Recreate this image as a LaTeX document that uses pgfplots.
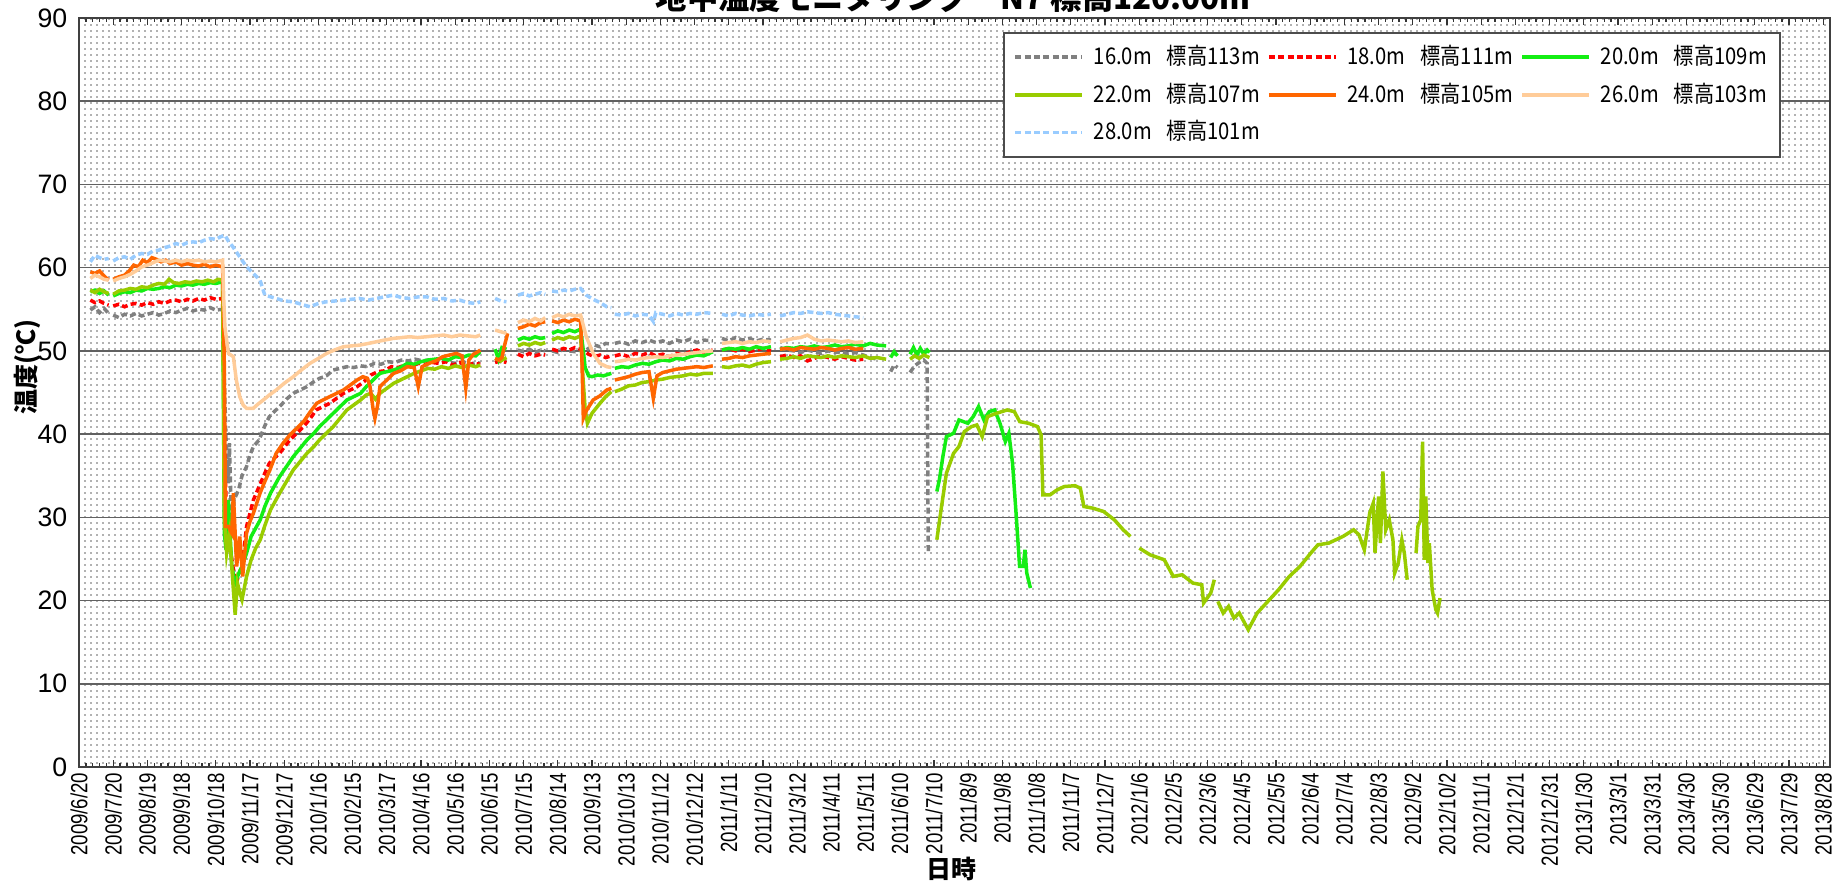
\documentclass[border=0pt]{standalone}
\usepackage{fontspec}
\setmainfont{Liberation Sans}
\newfontfamily\narrowfont[FakeStretch=0.8]{Liberation Sans}
\newfontfamily\jp{Noto Sans CJK JP}
\newfontfamily\jpleg[FakeStretch=0.88]{Noto Sans CJK JP}
\usepackage{pgfplots}
\pgfplotsset{compat=1.18}
\usetikzlibrary{patterns}
\pgfdeclarepatternformonly{bgdots}{\pgfqpoint{-0.1pt}{-0.1pt}}{\pgfqpoint{1.9pt}{1.9pt}}{\pgfqpoint{1.8pt}{1.8pt}}{\pgfpathrectangle{\pgfqpoint{0pt}{0pt}}{\pgfqpoint{0.55pt}{0.55pt}}\pgfusepath{fill}}
\definecolor{cgray}{RGB}{128,128,128}
\definecolor{cred}{RGB}{255,0,0}
\definecolor{cgreen}{RGB}{20,238,20}
\definecolor{cyg}{RGB}{153,204,0}
\definecolor{corange}{RGB}{255,102,0}
\definecolor{cpeach}{RGB}{255,204,153}
\definecolor{cblue}{RGB}{153,204,255}
\begin{document}
\begin{tikzpicture}
\useasboundingbox (0,0) rectangle (553.8pt,267pt);
\begin{axis}[
  at={(23.7pt,36.9pt)}, anchor=south west,
  scale only axis, width=525.3pt, height=224.7pt,
  xmin=0, xmax=1536, ymin=0, ymax=90,
  ytick={0,10,...,90},
  xtick={0,30,...,1530},
  xticklabels={2009/6/20,2009/7/20,2009/8/19,2009/9/18,2009/10/18,2009/11/17,2009/12/17,2010/1/16,2010/2/15,2010/3/17,2010/4/16,2010/5/16,2010/6/15,2010/7/15,2010/8/14,2010/9/13,2010/10/13,2010/11/12,2010/12/12,2011/1/11,2011/2/10,2011/3/12,2011/4/11,2011/5/11,2011/6/10,2011/7/10,2011/8/9,2011/9/8,2011/10/8,2011/11/7,2011/12/7,2012/1/6,2012/2/5,2012/3/6,2012/4/5,2012/5/5,2012/6/4,2012/7/4,2012/8/3,2012/9/2,2012/10/2,2012/11/1,2012/12/1,2012/12/31,2013/1/30,2013/3/1,2013/3/31,2013/4/30,2013/5/30,2013/6/29,2013/7/29,2013/8/28},
  minor x tick num=4,
  x tick label style={rotate=90, anchor=east, font=\narrowfont\fontsize{7}{8}\selectfont, inner sep=1.5pt},
  y tick label style={font=\fontsize{8}{9}\selectfont},
  /pgf/number format/assume math mode=true,
  tick align=inside,
  ytick style={draw=none},
  xtick style={black!80, line width=0.4pt},
  major tick length=2pt, minor tick length=1.2pt,
  ymajorgrids, grid style={black!62, line width=0.45pt},
  axis line style={black!75, line width=0.6pt},
  axis background/.style={pattern=bgdots, pattern color=black!30},
  unbounded coords=jump,
  legend columns=3,
  legend cell align=left,
  legend image code/.code={\draw[#1] (0pt,0pt) -- (20pt,0pt);},
  legend style={at={(0.972,0.981)}, anchor=north east, draw=black!70, line width=0.5pt, fill=white,
    font=\jpleg\fontsize{6.9}{7.5}\selectfont, row sep=0.8pt, inner xsep=3pt, inner ysep=2pt,
    nodes={inner ysep=1.6pt, inner xsep=1pt},
    /tikz/every odd column/.append style={column sep=2pt},
    /tikz/every even column/.append style={column sep=1.2pt}},
  every axis plot/.append style={line width=1.05pt},
]
% 16.0m
\addplot[cgray, dash pattern=on 1.8pt off 1pt] coordinates {
(10,54.9)(14,55.3)(18,54.6)(22,55.1)(26,54.5)(28,nan)(30,54.3)(35,54.0)(40,54.4)(45,54.2)(50,54.5)(55,54.2)(60,54.4)(65,54.6)(70,54.3)(75,54.5)(80,54.8)(85,54.6)(90,54.9)(95,55.1)(100,54.8)(105,55.0)(110,54.9)(115,55.2)(120,54.9)(126,55.0)
(128,44.1)(129,39.3)(131,34.1)(132,38.9)(134,28.1)(136,32.1)(140,33.3)(143,35.0)(147,36.1)(150,37.5)(153,38.5)(158,39.3)(163,41.0)(167,42.1)(172,42.8)(176,43.3)(182,44.2)(188,44.9)(194,45.3)(200,45.7)(206,46.3)(211,46.7)(217,47.0)(223,47.7)(229,47.9)(235,48.1)(241,48.0)(247,48.2)(253,48.1)(259,48.5)(265,48.4)(271,48.7)(277,48.6)(283,48.9)(289,48.8)(295,49.0)(301,48.8)(307,48.9)(313,48.7)(319,48.9)(325,48.6)(331,48.5)(337,48.7)(343,48.4)(349,48.6)(352,48.5)(358,nan)
(365,48.9)(370,48.7)(375,48.9)(380,nan)
(385,50.1)(390,49.9)(395,50.2)(400,49.8)(405,50.1)(409,50.0)(412,nan)
(415,50.0)(420,49.8)(425,50.2)(430,50.0)(435,49.9)(440,50.1)(443,49.9)(447,50.3)(452,50.7)(457,50.5)(462,50.9)(467,50.8)(469,nan)
(470,50.9)(476,51.1)(482,50.8)(488,51.2)(494,51.0)(500,51.3)(506,51.0)(512,51.2)(518,50.9)(524,51.3)(530,51.1)(536,51.4)(542,51.0)(548,51.3)(556,51.2)(560,nan)
(564,51.5)(570,51.2)(576,51.6)(582,51.3)(588,51.5)(594,51.2)(600,51.4)(607,51.3)(611,nan)
(615,50.4)(621,50.1)(627,50.0)(633,49.8)(639,50.1)(645,49.9)(651,49.7)(657,50.0)(663,49.8)(669,49.9)(675,49.6)(681,49.8)(688,49.5)(694,49.2)(700,49.0)(705,nan)
(712,47.5)(715,48.3)(718,48.0)(722,nan)
(729,47.4)(733,48.2)(737,48.6)(741,48.9)(744,48.5)(744.5,37.0)(745,25.7)
};
\addlegendentry{16.0m\hspace{4.5pt}標高113m}
% 18.0m
\addplot[cred, dash pattern=on 1.8pt off 1pt] coordinates {
(10,56.1)(14,55.8)(18,56.0)(22,55.7)(26,55.5)(28,nan)(30,55.4)(35,55.6)(40,55.3)(45,55.6)(50,55.7)(55,55.5)(60,55.8)(65,55.6)(70,55.9)(75,55.7)(80,56.0)(85,56.1)(90,55.9)(95,56.2)(100,56.0)(105,56.3)(110,56.1)(115,56.4)(120,56.2)(126,56.3)
(128,36.1)(130,28.1)(133,26.0)(135,24.1)(138,22.1)(141,23.5)(143,24.1)(145,26.5)(147,28.9)(150,30.5)(153,32.1)(158,33.7)(163,35.3)(167,36.5)(172,37.2)(176,37.7)(181,38.6)(185,39.3)(191,40.1)(197,40.9)(203,41.9)(208,42.9)(214,43.3)(220,43.7)(226,44.3)(232,44.9)(238,45.3)(244,45.7)(250,46.3)(256,47.1)(262,47.5)(268,47.6)(274,48.1)(280,48.0)(286,48.3)(292,48.2)(298,48.5)(304,48.4)(310,48.6)(316,48.5)(322,48.7)(328,48.3)(334,48.6)(340,48.2)(346,48.5)(352,48.4)(358,nan)
(365,48.6)(370,48.8)(375,48.6)(380,nan)
(385,49.6)(390,49.3)(395,49.7)(400,49.4)(405,49.6)(409,49.5)(412,nan)
(415,50.2)(420,50.0)(425,50.3)(430,50.1)(435,50.4)(440,50.2)(443,50.0)(447,49.6)(452,49.3)(457,49.5)(462,49.2)(467,49.4)(469,nan)
(470,49.4)(476,49.6)(482,49.3)(488,49.7)(494,49.5)(500,49.8)(506,49.4)(512,49.6)(518,49.3)(524,49.7)(530,49.5)(536,49.9)(542,50.1)(548,49.8)(556,50.1)(560,nan)
(564,50.1)(570,50.3)(576,50.0)(582,50.2)(588,49.9)(594,50.1)(600,50.3)(607,50.0)(611,nan)
(615,49.3)(621,49.5)(627,49.2)(633,49.4)(639,48.8)(645,49.1)(651,49.4)(657,49.2)(663,49.0)(669,49.3)(675,49.1)(681,48.9)(688,49.0)
};
\addlegendentry{18.0m\hspace{4.5pt}標高111m}
% 20.0m
\addplot[cgreen] coordinates {
(10,57.1)(14,57.3)(18,56.9)(22,57.2)(26,56.7)(28,nan)(30,56.6)(35,56.9)(40,57.1)(45,57.0)(50,57.3)(55,57.2)(60,57.5)(65,57.4)(70,57.5)(75,57.7)(80,57.6)(85,57.9)(90,57.8)(95,58.0)(100,57.9)(105,58.1)(110,58.0)(115,58.2)(120,58.1)(126,58.3)
(127.5,28.1)(129,26.1)(131,32.1)(134,24.1)(137,22.1)(140,23.2)(143,24.1)(147,25.7)(151,27.7)(155,28.7)(159,29.7)(163,31.3)(168,32.9)(172,33.9)(176,34.9)(182,36.1)(188,37.3)(194,38.3)(200,39.3)(206,40.1)(211,40.9)(217,41.7)(223,42.5)(229,43.3)(235,44.1)(241,44.5)(247,44.9)(252,45.7)(258,46.5)(264,47.3)(270,47.5)(276,47.7)(282,48.0)(288,48.5)(294,48.4)(300,48.7)(306,48.9)(312,49.0)(318,49.1)(324,48.9)(330,49.3)(336,49.2)(342,49.5)(348,49.4)(352,49.9)(358,nan)
(365,50.2)(368,49.0)(371,50.4)(375,50.2)(380,nan)
(385,51.3)(390,51.6)(395,51.4)(400,51.7)(405,51.5)(409,51.6)(412,nan)
(415,52.1)(420,52.4)(425,52.2)(430,52.5)(435,52.3)(440,52.6)(442,50.5)(444,48.0)(447,47.0)(450,46.9)(455,47.1)(460,47.0)(467,47.3)(469,nan)
(470,47.9)(476,48.1)(482,48.0)(488,48.3)(494,48.5)(500,48.4)(506,48.7)(512,48.9)(518,48.8)(524,49.1)(530,49.0)(536,49.3)(542,49.5)(548,49.4)(556,49.9)(560,nan)
(564,50.1)(570,50.3)(576,50.2)(582,50.4)(588,50.2)(594,50.5)(600,50.3)(607,50.5)(611,nan)
(615,50.2)(621,50.4)(627,50.3)(633,50.5)(639,50.4)(645,50.6)(651,50.4)(657,50.5)(663,50.7)(669,50.5)(675,50.6)(681,50.8)(688,50.6)(694,50.9)(700,50.7)(708,50.6)(710,nan)
(712,49.2)(715,49.9)(718,49.4)(722,nan)
(729,49.6)(732,50.4)(735,49.5)(738,50.3)(741,49.6)(744,50.1)(746,49.8)(749,nan)
(752.5,33.1)(754.7,34.5)(757.8,37.3)(760.9,39.7)(767.2,40.1)(771.9,41.7)(779.7,41.3)(784.4,42.1)(789.1,43.3)(793.8,41.7)(798.5,42.7)(803.2,42.9)(807.9,41.3)(812.6,39.1)(815.7,40.1)(818.9,36.5)(822,30.5)(825.1,24.1)(828.3,24.1)(829.8,26.1)(831.4,23.3)(834.6,21.5)
};
\addlegendentry{20.0m\hspace{4.5pt}標高109m}
% 22.0m
\addplot[cyg] coordinates {
(10,57.3)(14,57.0)(18,57.4)(22,57.1)(26,56.9)(28,nan)(30,56.8)(35,57.2)(40,57.3)(45,57.5)(50,57.4)(55,57.7)(60,57.6)(65,57.9)(70,58.1)(75,58.0)(79,58.6)(83,58.2)(88,58.1)(93,58.3)(98,58.2)(103,58.4)(108,58.3)(113,58.5)(118,58.3)(122,58.6)(126,58.5)
(127.5,30.1)(129.5,25.7)(132,28.1)(135,22.1)(137,18.3)(139,22.1)(141,21.0)(143,20.1)(147,22.9)(151,24.9)(155,26.3)(159,27.3)(163,29.0)(168,30.9)(172,31.9)(176,32.9)(182,34.3)(188,35.7)(194,36.7)(200,37.7)(206,38.5)(211,39.3)(217,40.1)(223,40.9)(229,41.9)(235,42.9)(241,43.5)(247,44.1)(252,44.7)(256,44.9)(260,44.2)(264,44.9)(270,45.5)(276,46.1)(282,46.5)(288,46.9)(294,47.3)(300,47.6)(306,47.9)(312,47.8)(318,48.1)(324,47.9)(330,48.2)(336,48.0)(342,48.3)(348,48.1)(352,48.3)(358,nan)
(365,49.1)(370,48.8)(375,49.2)(380,nan)
(385,50.6)(390,50.9)(395,50.7)(400,51.0)(405,50.8)(409,51.0)(412,nan)
(415,51.3)(420,51.6)(425,51.4)(430,51.7)(435,51.5)(440,51.8)(442,47.0)(444,43.0)(446,41.3)(450,42.5)(457,43.7)(462,44.5)(467,45.1)(469,nan)
(470,45.1)(476,45.4)(482,45.8)(488,45.9)(494,46.2)(500,46.3)(506,46.5)(512,46.6)(518,46.8)(524,46.9)(530,47.0)(536,47.2)(542,47.1)(548,47.3)(556,47.3)(560,nan)
(564,48.1)(570,48.0)(576,48.2)(582,48.3)(588,48.1)(594,48.4)(600,48.6)(607,48.7)(611,nan)
(615,49.0)(621,49.1)(627,49.3)(633,49.1)(639,49.4)(645,49.3)(651,49.2)(657,49.4)(663,49.2)(669,49.4)(675,49.3)(681,49.2)(688,49.4)(694,49.1)(700,49.2)(708,49.0)(715,nan)
(729,49.0)(733,49.4)(737,49.1)(741,49.5)(746,49.2)(749,nan)
(752.5,27.3)(756.2,30.9)(760.9,35.3)(767.2,37.7)(771.9,38.5)(776.6,40.3)(782.9,40.9)(787.6,41.1)(792.3,39.7)(797,42.1)(804.8,42.5)(814.2,42.9)(820.5,42.7)(825.2,41.5)(833,41.3)(840.8,40.9)(844,39.9)(845.5,32.7)(851.8,32.7)(858,33.3)(864.3,33.7)(873.7,33.8)(878.4,33.5)(881.5,31.3)(889.4,31.1)(898.8,30.7)(908.2,29.7)(916,28.5)(922.3,27.7)(926,nan)
(930.1,26.3)(939.5,25.5)(952,24.9)(959.9,22.9)(967.7,23.1)(977.1,22.1)(984.9,21.9)(986.5,19.7)(992.8,20.9)(995.9,22.5)(997,nan)
(999,19.9)(1003.7,18.5)(1008.4,19.3)(1013.1,17.9)(1017.8,18.5)(1022.5,17.3)(1025.7,16.5)(1028.8,17.3)(1033.5,18.5)(1042.9,19.9)(1052.3,21.3)(1061.7,22.9)(1071.1,24.1)(1080.5,25.7)(1086.8,26.7)(1096.2,26.9)(1108.7,27.7)(1118.1,28.5)(1122.8,27.9)(1127.5,26.1)(1132.2,30.5)(1135.3,31.7)(1136.9,25.7)(1140,32.5)(1141.6,26.9)(1143.8,35.5)(1146.3,28.5)(1149.4,29.7)(1152.6,27.3)(1154.1,23.3)(1157.2,24.5)(1160.4,27.3)(1162.6,25.7)(1165.1,22.5)(1168,nan)
(1172.9,25.7)(1174.5,28.9)(1177,29.7)(1178.6,39.1)(1180.1,24.9)(1181.4,32.5)(1183.3,24.5)(1184.5,26.9)(1187,21.3)(1190.2,18.9)(1191.7,18.5)(1193.9,20.3)
};
\addlegendentry{22.0m\hspace{4.5pt}標高107m}
% 24.0m
\addplot[corange] coordinates {
(10,59.5)(14,59.3)(18,59.6)(22,59.0)(26,58.5)(28,nan)(30,58.6)(35,58.9)(40,59.1)(44,59.6)(48,60.3)(52,60.1)(56,60.9)(60,60.6)(64,61.2)(68,61.0)(72,60.7)(76,60.9)(80,60.5)(85,60.7)(90,60.3)(95,60.5)(100,60.3)(105,60.2)(110,60.4)(115,60.1)(120,60.3)(126,60.1)
(127.5,48.1)(128.5,28.9)(131,28.9)(134,28.1)(135.4,32.9)(138.3,24.1)(141,27.7)(143.6,22.9)(147,28.1)(150,29.5)(153,30.5)(158.8,32.9)(163,34.3)(167.5,35.7)(173,37.7)(179,38.9)(185,39.9)(191,40.7)(197,41.5)(203,42.7)(208.5,43.7)(214,44.1)(220,44.5)(226,44.9)(232,45.3)(238,45.9)(244,46.5)(249,46.9)(253,46.7)(255.3,45.7)(258,43.0)(259.6,41.9)(262,43.5)(264,45.7)(270,46.5)(276,47.3)(282,47.6)(288,48.1)(294,48.0)(297.6,45.7)(301,48.1)(307,48.5)(313,48.8)(319,49.3)(325,49.5)(331,49.7)(336,49.4)(339.3,45.5)(342,48.9)(346,49.6)(350,49.9)(352,50.1)(358,nan)
(365,49.1)(368,48.9)(371,49.2)(373,50.5)(376,52.1)(380,nan)
(385,52.7)(390,52.9)(395,53.2)(400,53.0)(405,53.4)(409,53.5)(412,nan)
(415,53.6)(420,53.4)(425,53.7)(430,53.5)(435,53.8)(440,53.6)(441,50.0)(442.4,41.9)(445,42.8)(451,44.1)(457,44.6)(463,45.3)(467,45.5)(469,nan)
(470,46.5)(476,46.7)(482,46.9)(488,47.2)(494,47.4)(500,47.5)(503.8,44.3)(507,47.0)(512,47.4)(518,47.6)(524,47.8)(530,47.9)(536,48.0)(542,48.1)(548,48.0)(556,48.2)(560,nan)
(564,49.0)(570,49.1)(576,49.3)(582,49.2)(588,49.4)(594,49.5)(600,49.6)(607,49.7)(611,nan)
(615,50.2)(621,50.3)(627,50.1)(633,50.4)(639,50.3)(645,50.2)(651,50.4)(657,50.3)(663,50.1)(669,50.3)(675,50.4)(681,50.2)(688,50.3)
};
\addlegendentry{24.0m\hspace{4.5pt}標高105m}
% 26.0m
\addplot[cpeach] coordinates {
(10,58.7)(14,59.1)(18,58.9)(22,58.6)(26,58.5)(28,nan)(30,58.4)(35,58.7)(40,58.9)(45,59.2)(50,59.6)(55,60.1)(60,60.3)(65,60.6)(70,60.9)(75,60.8)(80,60.7)(85,60.9)(90,60.7)(95,60.9)(100,60.8)(105,60.9)(110,60.7)(115,60.8)(120,60.7)(126,60.9)
(127,56.0)(128,52.9)(131,49.7)(135.4,49.3)(138,46.5)(141,44.5)(144,43.5)(147,43.1)(152.9,43.1)(157,43.6)(161.7,44.1)(167,44.7)(173,45.3)(180,46.1)(188,46.9)(195,47.7)(202.6,48.5)(210,49.1)(217.3,49.7)(224,50.1)(231.9,50.5)(239,50.6)(246.5,50.7)(254,50.9)(261,51.1)(268,51.3)(275.7,51.5)(283,51.6)(290,51.7)(297,51.6)(305,51.7)(312,51.8)(320,51.9)(327,51.7)(334,51.9)(341,51.8)(348,51.7)(352,51.9)(358,nan)
(365,52.5)(370,52.3)(375,52.1)(380,nan)
(385,53.4)(390,53.7)(395,53.5)(400,53.9)(405,53.6)(409,54.0)(412,nan)
(415,54.0)(420,54.3)(425,54.1)(430,54.4)(435,54.2)(440,54.3)(445,51.7)(451,49.7)(457,48.5)(463,48.1)(467,48.0)(469,nan)
(470,48.7)(476,48.8)(482,49.0)(488,48.9)(494,49.1)(500,49.2)(506,49.3)(512,49.2)(518,49.4)(524,49.5)(530,49.6)(536,49.7)(542,49.8)(548,49.9)(556,50.0)(560,nan)
(564,50.9)(570,51.0)(576,51.1)(582,50.9)(588,51.1)(594,51.0)(600,51.2)(607,51.1)(611,nan)
(615,51.1)(621,51.3)(627,51.5)(633,51.6)(639,51.9)(645,51.4)(651,51.2)(657,51.3)(663,51.2)(669,51.1)(675,51.2)(681,51.0)(688,51.1)
};
\addlegendentry{26.0m\hspace{4.5pt}標高103m}
% 28.0m
\addplot[cblue, dash pattern=on 1.8pt off 1pt] coordinates {
(10,60.7)(14,61.5)(18,61.2)(22,61.0)(26,61.1)(28,nan)(30,60.8)(35,61.2)(40,61.3)(45,61.0)(50,61.5)(55,61.7)(60,61.6)(65,62.0)(70,62.1)(75,62.4)(80,62.6)(85,62.9)(90,62.7)(95,63.0)(100,63.1)(105,63.0)(110,63.3)(115,63.5)(120,63.4)(124,63.7)(128,63.9)
(131,63.2)(135,62.5)(141,61.3)(147,60.1)(153,59.3)(158.8,58.5)(163,56.7)(168,56.5)(173,56.3)(180,56.0)(188,55.9)(195,55.6)(202.6,55.3)(210,55.7)(217,55.9)(225,56.0)(232,56.1)(239,56.2)(246,56.3)(254,56.1)(261,56.3)(268,56.5)(276,56.7)(283,56.4)(290,56.3)(298,56.5)(305,56.5)(312,56.2)(320,56.3)(327,56.0)(334,56.1)(341,55.8)(348,55.7)(352,55.9)(358,nan)
(365,56.3)(370,56.0)(375,55.9)(380,nan)
(385,56.7)(390,56.9)(395,56.6)(400,56.8)(405,57.0)(409,56.8)(412,nan)
(415,57.2)(420,57.1)(425,57.3)(430,57.2)(435,57.4)(440,57.5)(445,56.7)(451,56.2)(457,55.8)(463,55.3)(467,55.2)(469,nan)
(470,54.4)(476,54.3)(482,54.5)(488,54.2)(494,54.4)(500,54.3)(504,53.5)(506,54.6)(512,54.4)(518,54.2)(524,54.5)(530,54.3)(536,54.5)(542,54.4)(548,54.6)(556,54.5)(560,nan)
(564,54.4)(570,54.2)(576,54.5)(582,54.3)(588,54.2)(594,54.4)(600,54.3)(607,54.4)(611,nan)
(615,54.2)(621,54.4)(627,54.6)(633,54.5)(639,54.7)(645,54.6)(651,54.5)(657,54.6)(663,54.4)(669,54.3)(675,54.2)(681,54.1)(688,54.0)
};
\addlegendentry{28.0m\hspace{4.5pt}標高101m}
\end{axis}
\node[font=\jp\bfseries\fontsize{9.4}{10}\selectfont, anchor=base] at (286pt,264pt) {地中温度モニタリング　N7 標高120.00m};
\node[font=\jp\bfseries\fontsize{7.5}{8}\selectfont, rotate=90] at (8.1pt,157pt) {温度(℃)};
\node[font=\jp\bfseries\fontsize{7.5}{8}\selectfont] at (285.3pt,6.3pt) {日時};
\end{tikzpicture}
\end{document}
